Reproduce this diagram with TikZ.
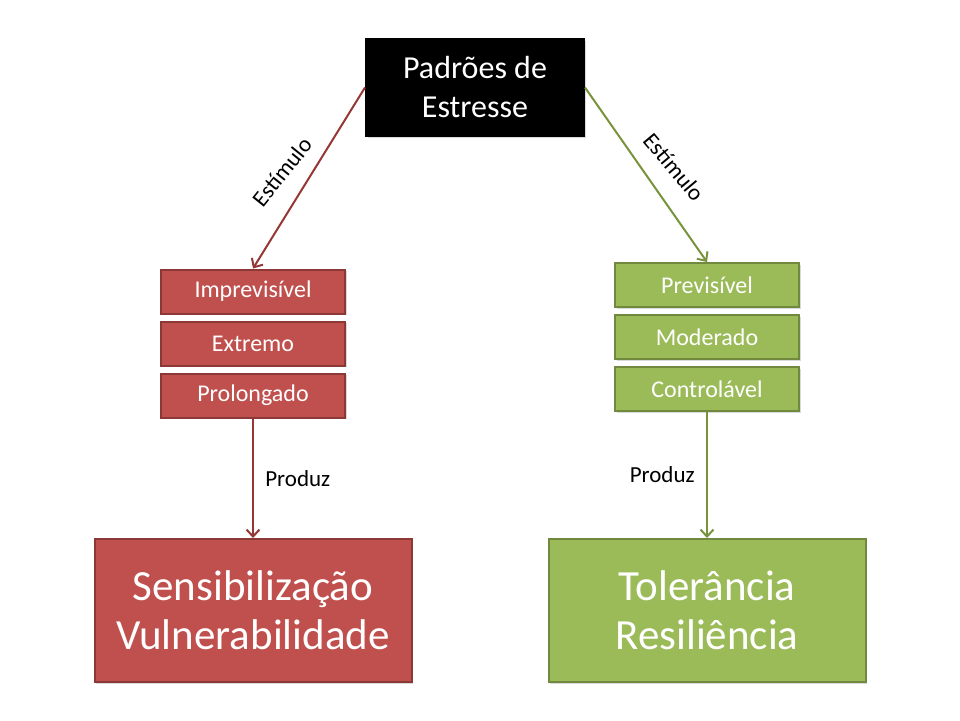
\documentclass[tikz,border=0pt]{standalone}
\usepackage{fontspec}
\setmainfont{Carlito}
\usetikzlibrary{positioning,arrows.meta,shadows}
\definecolor{redfill}{HTML}{C0504D}
\definecolor{redline}{HTML}{8C3836}
\definecolor{redarrow}{HTML}{953735}
\definecolor{greenfill}{HTML}{9BBB59}
\definecolor{greenline}{HTML}{71893F}
\definecolor{greenarrow}{HTML}{77933C}
\tikzset{
  box/.style={draw, line width=2pt, text=white, align=center,
    drop shadow={shadow xshift=1.5pt, shadow yshift=-1.5pt, opacity=0.3}},
  head/.style={box, fill=black, draw=black, minimum width=218pt,
    minimum height=97pt, font=\fontsize{32}{39}\selectfont},
  redsmall/.style={box, fill=redfill, draw=redline, minimum width=184pt,
    minimum height=44pt, font=\fontsize{24}{29}\selectfont},
  greensmall/.style={redsmall, fill=greenfill, draw=greenline},
  redbig/.style={box, fill=redfill, draw=redline, minimum width=317pt,
    minimum height=143pt, font=\fontsize{43}{49}\selectfont},
  greenbig/.style={redbig, fill=greenfill, draw=greenline},
  redarr/.style={draw=redarrow, line width=2pt,
    -{Straight Barb[length=7pt,width=13pt,line width=2pt]}},
  greenarr/.style={redarr, draw=greenarrow},
  lbl/.style={font=\fontsize{23}{27}\selectfont, text=black}
}
\begin{document}
\begin{tikzpicture}[x=1pt,y=-1pt]
\useasboundingbox (0,0) rectangle (960,720);

\node[head] (pad) at (475,87.5) {Padrões de\\Estresse};

\node[redsmall] (impr) at (253,291.5) {Imprevisível};
\node[redsmall, below=6pt of impr] (extr) {Extremo};
\node[redsmall, below=6pt of extr] (prol) {Prolongado};

\node[greensmall] (prev) at (707,285) {Previsível};
\node[greensmall, below=6pt of prev] (mode) {Moderado};
\node[greensmall, below=6pt of mode] (cont) {Controlável};

\node[redbig] (sens) at (253,610.5) {Sensibilização\\Vulnerabilidade};
\node[greenbig] (tole) at (707,610.5) {Tolerância\\Resiliência};

\draw[redarr] (pad.west) -- node[lbl, pos=0.55, sloped, rotate=-7, above=14pt] {Estímulo} (impr.north);
\draw[greenarr] (pad.east) -- node[lbl, pos=0.55, sloped, rotate=5, above=15pt] {Estímulo} (prev.north);
\draw[redarr] (prol.south) -- node[lbl, right=8pt] {Produz} (sens.north);
\draw[greenarr] (cont.south) -- node[lbl, left=8pt] {Produz} (tole.north);
\end{tikzpicture}
\end{document}
